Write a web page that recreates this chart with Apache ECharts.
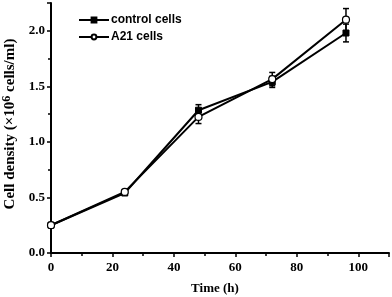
<!DOCTYPE html>
<html><head><meta charset="utf-8">
<script src="https://cdn.jsdelivr.net/npm/echarts@6/dist/echarts.min.js"></script>
<style>html,body{margin:0;padding:0;background:#fff}#c{width:392px;height:297px}</style>
</head><body><div id="c"></div>
<script>
var times = [0, 24, 48, 72, 96];
var controlCells = [0.25, 0.54, 1.285, 1.54, 1.98];
var controlErr = [0.01, 0.02, 0.05, 0.05, 0.08];
var a21Cells = [0.25, 0.55, 1.225, 1.565, 2.10];
var a21Err = [0.01, 0.02, 0.06, 0.06, 0.10];
var seriesNames = ['control cells', 'A21 cells'];

function errData(vals, errs) {
  return times.map(function (t, i) { return [t, vals[i] - errs[i], vals[i] + errs[i]]; });
}
function errSeries(vals, errs) {
  return {
    type: 'custom', silent: true, z: 1,
    data: errData(vals, errs),
    renderItem: function (params, api) {
      var lo = api.coord([api.value(0), api.value(1)]);
      var hi = api.coord([api.value(0), api.value(2)]);
      var w = 3;
      var st = { stroke: '#000', lineWidth: 1.5 };
      return { type: 'group', children: [
        { type: 'line', shape: { x1: lo[0], y1: lo[1], x2: hi[0], y2: hi[1] }, style: st },
        { type: 'line', shape: { x1: lo[0] - w, y1: lo[1], x2: lo[0] + w, y2: lo[1] }, style: st },
        { type: 'line', shape: { x1: hi[0] - w, y1: hi[1], x2: hi[0] + w, y2: hi[1] }, style: st }
      ]};
    }
  };
}
function pairs(vals) { return times.map(function (t, i) { return [t, vals[i]]; }); }

var chart = echarts.init(document.getElementById('c'), null, { renderer: 'canvas' });
var serif = '"Liberation Serif", "Times New Roman", serif';
chart.setOption({
  animation: false,
  grid: { left: 51, right: 3, top: 3, bottom: 44, containLabel: false, outerBoundsMode: 'none' },
  legend: {
    left: 73, top: 9, orient: 'vertical', itemGap: 5, itemWidth: 30, itemHeight: 6,
    textStyle: { fontFamily: '"Liberation Sans", Arial, sans-serif', fontWeight: 'bold', fontSize: 12, color: '#000', padding: [0, 0, 0, -3] },
    data: seriesNames
  },
  xAxis: {
    type: 'value', min: 0, max: 110, interval: 20,
    name: 'Time (h)', nameLocation: 'middle', nameGap: 29,
    nameTextStyle: { fontFamily: serif, fontWeight: 'bold', fontSize: 13, color: '#000', padding: [0, 10, 0, 0] },
    axisLine: { lineStyle: { color: '#000', width: 2 } },
    axisTick: { lineStyle: { color: '#000', width: 1.5 }, length: 4 },
    minorTick: { show: true, splitNumber: 2, length: 3, lineStyle: { color: '#000', width: 1.5 } },
    splitLine: { show: false },
    axisLabel: { showMaxLabel: false, fontFamily: serif, fontWeight: 'bold', fontSize: 13, color: '#000', margin: 8 }
  },
  yAxis: {
    type: 'value', min: 0, max: 2.25, interval: 0.5,
    name: '{a|Cell density (×10}{s|6}{a| cells/ml)}', nameLocation: 'middle', nameGap: 27, nameRotate: 90,
    nameTextStyle: { padding: [0, 0, 0, 8], rich: {
      a: { fontFamily: serif, fontWeight: 'bold', fontSize: 15, color: '#000' },
      s: { fontFamily: serif, fontWeight: 'bold', fontSize: 12, color: '#000', verticalAlign: 'top', padding: [0, 0, 7, 0] }
    } },
    axisLine: { show: true, lineStyle: { color: '#000', width: 2 } },
    axisTick: { show: true, lineStyle: { color: '#000', width: 1.5 }, length: 4 },
    minorTick: { show: true, splitNumber: 2, length: 3, lineStyle: { color: '#000', width: 1.5 } },
    splitLine: { show: false },
    axisLabel: { showMaxLabel: false, formatter: function (v) { return v.toFixed(1); }, fontFamily: serif, fontWeight: 'bold', fontSize: 13, color: '#000', margin: 6 }
  },
  series: [
    errSeries(controlCells, controlErr),
    errSeries(a21Cells, a21Err),
    { name: seriesNames[0], type: 'line', data: pairs(controlCells), z: 3,
      symbol: 'rect', symbolSize: 6, showAllSymbol: true,
      lineStyle: { color: '#000', width: 2 },
      itemStyle: { color: '#000', borderColor: '#000', borderWidth: 1 } },
    { name: seriesNames[1], type: 'line', data: pairs(a21Cells), z: 4,
      symbol: 'circle', symbolSize: 7, showAllSymbol: true,
      lineStyle: { color: '#000', width: 2 },
      itemStyle: { color: '#fff', borderColor: '#000', borderWidth: 1.2 } }
  ]
});
</script></body></html>
